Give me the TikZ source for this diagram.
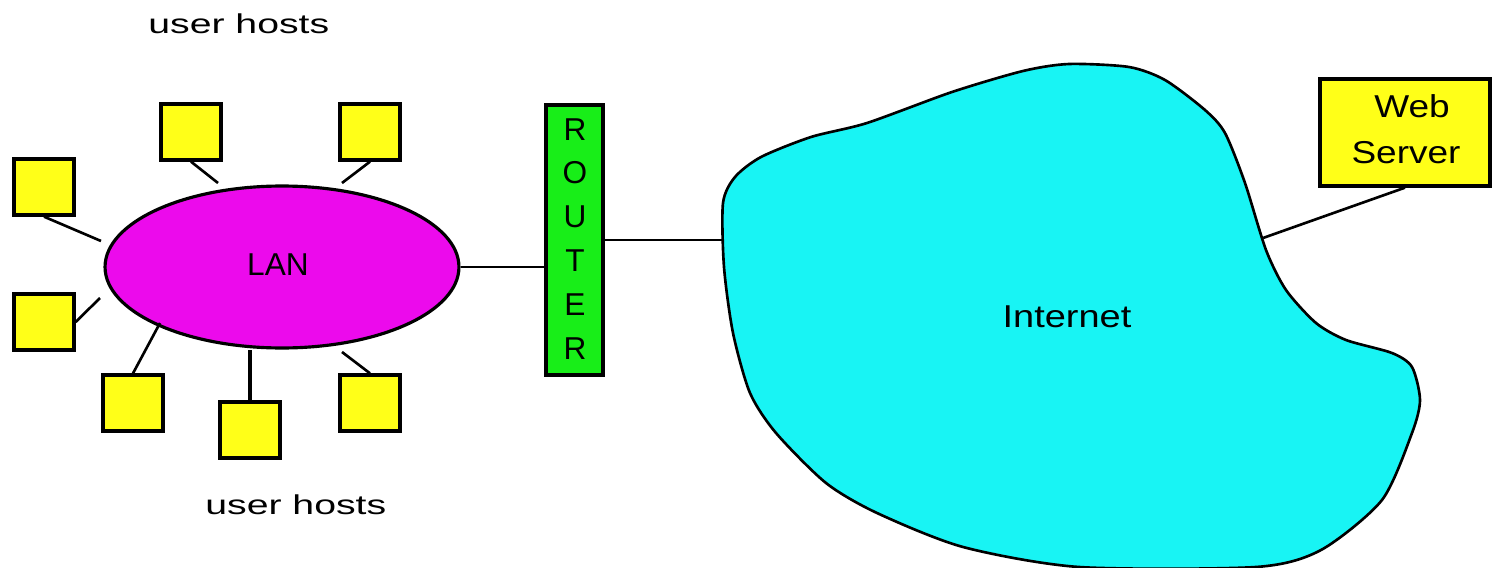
\documentclass[tikz,border=0pt]{standalone}
\usepackage{graphicx}
\usepackage{fontspec}
\setmainfont{Liberation Sans}
\usetikzlibrary{shapes.geometric, positioning, calc}

\definecolor{hostyellow}{RGB}{255,255,24}
\definecolor{lanmagenta}{RGB}{236,10,236}
\definecolor{routergreen}{RGB}{24,238,24}
\definecolor{netcyan}{RGB}{24,244,244}

\newcommand{\widetext}[2]{\scalebox{#1}[1]{#2}}

\tikzset{
  host/.style={draw, line width=1.9pt, fill=hostyellow, minimum width=1.2cm, minimum height=1.12cm, inner sep=0pt},
  link/.style={line width=1.5pt},
  label/.style={font=\fontsize{18}{22}\selectfont, inner sep=0pt, anchor=base}
}

\begin{document}
\begin{tikzpicture}[x=0.02cm, y=-0.02cm]
\useasboundingbox (0,0) rectangle (1492,568);

% Internet cloud
\draw[line width=1.5pt, fill=netcyan] plot[smooth cycle, tension=0.45] coordinates {
  (1069,64) (1129,67) (1165,80) (1205,110) (1225,133) (1245,183) (1266,250)
  (1286,290) (1316,323) (1346,340) (1392,353) (1412,367) (1420,400) (1412,433)
  (1382,500) (1321,550) (1256,567) (1079,567) (963,547) (877,513) (826,483)
  (776,433) (750,393) (733,333) (724,267) (723,203) (735,177) (761,157)
  (811,137) (867,123) (952,92) (1023,71)};
\node[label] (inet) at (1067,327) {\widetext{1.2}{Internet}};
\coordinate (cin) at (723,240);
\coordinate (cout) at (1263,238);

% LAN and hosts
\node[draw, ellipse, line width=1.8pt, fill=lanmagenta, minimum width=7.08cm, minimum height=3.24cm, inner sep=0pt] (lan) at (282,267) {};
\node[label] at (278,275) {LAN};

\node[host] (htl) at (191,132) {};
\node[host] (htr) at (370,132) {};
\node[host] (hl1) at (44,187) {};
\node[host] (hl2) at (44,322) {};
\node[host] (hb1) at (133,403) {};
\node[host] (hb2) at (250,430) {};
\node[host] (hb3) at (370,403) {};

\coordinate (etl) at (218,183);
\coordinate (etr) at (342,183);
\coordinate (el1) at (101,241);
\coordinate (el2) at (100,298);
\coordinate (eb1) at (160,323);
\coordinate (eb3) at (342,352);

\draw[link] (htl.south) -- (etl);
\draw[link] (htr.south) -- (etr);
\draw[link] (hl1.south) -- (el1);
\draw[link] (hl2.east) -- (el2);
\draw[link] (hb1.north) -- (eb1);
\draw[link, line width=2pt] (hb2.north) -- (hb2.north |- lan.south);
\draw[link] (hb3.north) -- (eb3);

\node[label, anchor=base west, font=\fontsize{15.5}{18}\selectfont] (uhtop) at (148,33) {\widetext{1.44}{user hosts}};
\node[label, anchor=base west, font=\fontsize{15.5}{18}\selectfont] (uhbot) at (205,514) {\widetext{1.44}{user hosts}};

% Router
\node[draw, line width=1.9pt, fill=routergreen, minimum width=1.14cm, minimum height=5.4cm, inner sep=0pt] (router) at (574.5,240) {};
\foreach \l [count=\i from 0] in {R,O,U,T,E,R}
  \node[label] at (575,140+43.8*\i) {\l};

\draw[link] (lan.east) -- (router.west |- lan.east);
\draw[link] (router.east |- cin) -- (cin);

% Web server
\node[draw, line width=1.9pt, fill=hostyellow, minimum width=3.4cm, minimum height=2.14cm, inner sep=0pt] (web) at (1405,132.5) {};
\node[label] at (1412,117) {\widetext{1.17}{Web}};
\node[label] at (1406,163) {\widetext{1.17}{Server}};
\draw[link] (web.south) -- (cout);
\end{tikzpicture}
\end{document}
